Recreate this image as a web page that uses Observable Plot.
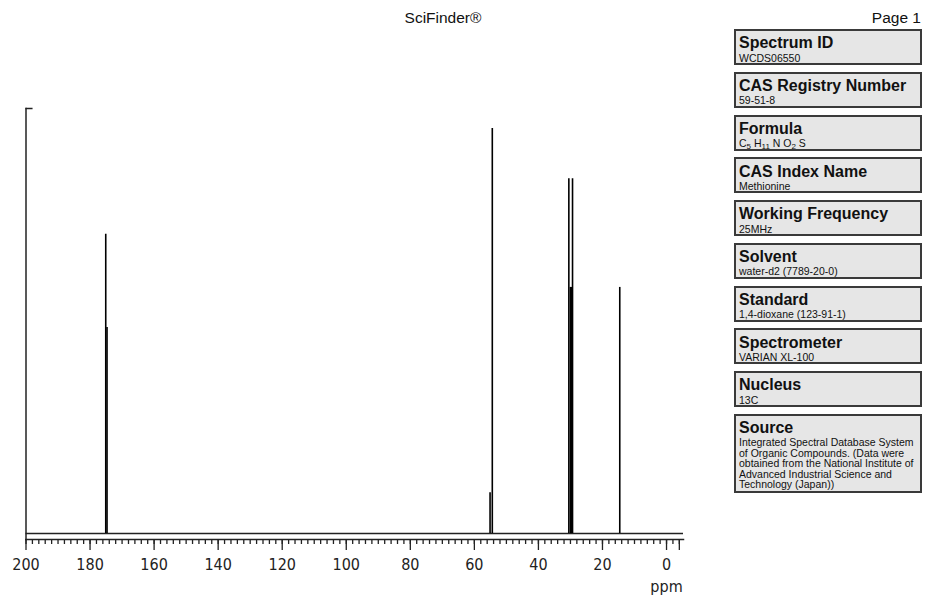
<!DOCTYPE html>
<html>
<head>
<meta charset="utf-8">
<script src="https://cdn.jsdelivr.net/npm/d3@7"></script>
<script src="https://cdn.jsdelivr.net/npm/@observablehq/plot@0.6"></script>
<style>
html,body{margin:0;padding:0;background:#fff;}
#page{position:relative;width:933px;height:609px;overflow:hidden;font-family:"Liberation Sans",Arial,sans-serif;color:#111;}
#title{position:absolute;left:343px;width:200px;text-align:center;top:9px;font-size:15.5px;}
#pageno{position:absolute;right:12px;top:9px;font-size:15.5px;}
#chart{position:absolute;left:0;top:0;}
.box{position:absolute;left:734px;width:188px;height:36px;box-sizing:border-box;border:2px solid #3a3a3a;background:#e6e6e6;}
.box .h{position:absolute;left:3px;top:5.3px;font-weight:bold;font-size:16px;line-height:13px;white-space:nowrap;color:#111;}
.box .v{position:absolute;left:3px;top:21.6px;font-size:10.5px;line-height:10.5px;white-space:pre-line;color:#111;}
.box .v sub{font-size:8px;vertical-align:-2px;line-height:0;}
</style>
</head>
<body>
<div id="page">
  <div id="chart"></div>
  <div id="title"></div>
  <div id="pageno"></div>
</div>
<script>
// ---- data ----
const titleText = "SciFinder®";
const pageText = "Page 1";
const peakPpm = [175.1, 174.7, 55.1, 54.4, 30.5, 30.0, 29.75, 29.35, 14.6];
const peakIntensity = [70.4, 48.5, 9.6, 95.3, 83.5, 57.9, 57.9, 83.5, 57.9];
const majorTicks = [200, 180, 160, 140, 120, 100, 80, 60, 40, 20, 0];
const minorTicks = d3.range(200, -5, -2);
const endTicks = [-4];
const unitLabel = [{ppm: 0, label: "ppm"}];
const infoLabels = ["Spectrum ID", "CAS Registry Number", "Formula", "CAS Index Name", "Working Frequency", "Solvent", "Standard", "Spectrometer", "Nucleus", "Source"];
const infoValues = ["WCDS06550", "59-51-8", "C5 H11 N O2 S", "Methionine", "25MHz", "water-d2 (7789-20-0)", "1,4-dioxane (123-91-1)", "VARIAN XL-100", "13C",
  "Integrated Spectral Database System\nof Organic Compounds. (Data were\nobtained from the National Institute of\nAdvanced Industrial Science and\nTechnology (Japan))"];

// ---- header ----
document.getElementById("title").textContent = titleText;
document.getElementById("pageno").textContent = pageText;

// ---- info boxes ----
const page = document.getElementById("page");
infoLabels.forEach((lab, i) => {
  const box = document.createElement("div");
  box.className = "box";
  box.style.top = (29 + i * 42.75) + "px";
  if (i === infoLabels.length - 1) box.style.height = "79px";
  const h = document.createElement("div");
  h.className = "h";
  h.textContent = lab;
  const v = document.createElement("div");
  v.className = "v";
  if (lab === "Formula") {
    v.innerHTML = infoValues[i].replace(/([A-Z])(\d+)/g, "$1<sub>$2</sub>");
  } else {
    v.textContent = infoValues[i];
  }
  box.appendChild(h);
  box.appendChild(v);
  page.appendChild(box);
});

// ---- chart ----
const peaks = peakPpm.map((ppm, i) => ({ppm, intensity: peakIntensity[i]}));
const lineColor = "#222";
const chart = Plot.plot({
  width: 700,
  height: 609,
  marginLeft: 25.5,
  marginRight: 17,
  marginTop: 108,
  marginBottom: 70,
  x: {domain: [200, -5.3], axis: null},
  y: {domain: [0, 100], insetBottom: 6, axis: null},
  style: {fontFamily: "'DejaVu Sans Condensed', 'DejaVu Sans', sans-serif", background: "white", color: "#222", overflow: "visible"},
  marks: [
    Plot.frame({anchor: "left", stroke: lineColor, strokeWidth: 1.5}),
    Plot.frame({anchor: "bottom", stroke: lineColor, strokeWidth: 1.5}),
    Plot.ruleY([100], {x1: 200, x2: 197.8, stroke: lineColor, strokeWidth: 1.5}),
    Plot.ruleY([0], {stroke: lineColor, strokeWidth: 1.5}),
    Plot.ruleX(peaks, {x: "ppm", y1: 0, y2: "intensity", stroke: "#000", strokeWidth: 1.6}),
    Plot.axisX(minorTicks, {anchor: "bottom", tickSize: 5, tickFormat: () => "", label: null, stroke: lineColor, strokeWidth: 1.3}),
    Plot.axisX(endTicks, {anchor: "bottom", tickSize: 11, tickFormat: () => "", label: null, stroke: lineColor, strokeWidth: 1.3}),
    Plot.axisX(majorTicks, {anchor: "bottom", tickSize: 11, tickPadding: 8, label: null, fontSize: 16, stroke: lineColor, fill: "#222", strokeWidth: 1.3}),
    Plot.text(unitLabel, {x: "ppm", text: "label", frameAnchor: "bottom", lineAnchor: "bottom", dy: 52, fontSize: 16, fill: "#222"})
  ]
});
document.getElementById("chart").appendChild(chart);
</script>
</body>
</html>
